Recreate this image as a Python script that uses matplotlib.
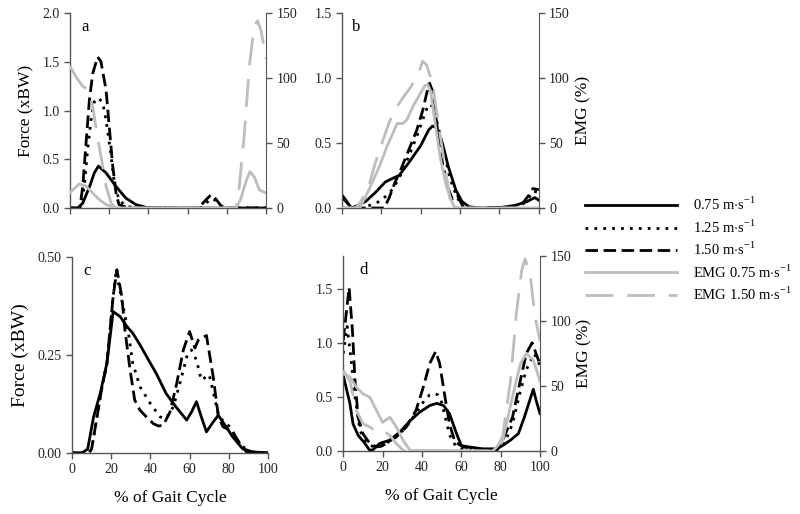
import matplotlib
matplotlib.use("Agg")
import matplotlib.pyplot as plt
from matplotlib.lines import Line2D

plt.rcParams['font.family'] = ['Liberation Serif', 'DejaVu Serif']
plt.rcParams['mathtext.fontset'] = 'custom'
plt.rcParams['mathtext.rm'] = 'Liberation Serif'

# ---------------- data ----------------
# Panel a
a_x_s = [0, 4, 6.5, 10, 12.4, 14.5, 18.4, 23.5, 28.6, 33.7, 38.8, 45, 100]
a_s = [0, 0, 0.05, 0.22, 0.36, 0.43, 0.36, 0.22, 0.1, 0.034, 0.007, 0, 0]
a_x_dt = [0, 5, 7.3, 9, 10.7, 12.4, 14.5, 16.7, 18.4, 21, 22.6, 25, 28.6, 35, 66, 67.7, 70, 72, 74, 76, 78.7, 85, 100]
a_dt = [0, 0, 0.22, 0.6, 0.9, 1.09, 1.13, 1.08, 0.9, 0.53, 0.26, 0.085, 0.017, 0, 0, 0.01, 0.06, 0.096, 0.08, 0.03, 0, 0, 0]
a_x_ds = [0, 5, 6.5, 8.2, 9.9, 11.6, 14.1, 15.8, 18.4, 20, 21.8, 23.5, 25, 30, 64, 66, 69.4, 72, 74.5, 77, 80, 100]
a_ds = [0, 0, 0.22, 0.67, 1.11, 1.38, 1.55, 1.5, 1.21, 0.84, 0.43, 0.15, 0.034, 0, 0, 0.01, 0.085, 0.137, 0.09, 0.024, 0, 0]
a_x_e1 = [0, 4.8, 8.2, 11.6, 15, 18.4, 21.8, 25, 84.7, 87, 89.8, 91.8, 94, 96.6, 100]
a_e1 = [12, 18.5, 16.7, 11.5, 6.4, 2.6, 0.8, 0, 0, 6.4, 20.5, 28, 24, 14, 11.5]
a_x_e2 = [0, 3, 6.5, 9, 11.6, 14, 16.7, 18.4, 21, 23, 84.7, 86.4, 89, 91.5, 94, 95.7, 97.4, 100]
a_e2 = [109, 101, 93.6, 91.5, 78, 55, 32, 16.7, 3.8, 0, 0, 16.7, 58, 109, 140, 144, 137, 115]

# Panel b
b_x_s = [0, 2, 5, 8, 12, 17, 22, 26, 29, 34, 40, 44, 46, 48, 51, 54, 57.8, 61, 64.5, 70, 81, 88, 94, 98, 100]
b_s = [0.08, 0.05, 0, 0.02, 0.05, 0.12, 0.2, 0.23, 0.25, 0.35, 0.48, 0.6, 0.63, 0.62, 0.5, 0.32, 0.14, 0.05, 0.01, 0, 0.005, 0.02, 0.05, 0.08, 0.06]
b_x_dt = [0, 5, 10, 14, 19, 23, 26, 30, 34, 38, 41, 43, 44.5, 46, 49, 52, 55, 58, 60, 62, 70, 85, 92, 95, 97, 100]
b_dt = [0, 0, 0, 0.02, 0.05, 0.1, 0.15, 0.26, 0.4, 0.55, 0.68, 0.76, 0.8, 0.78, 0.62, 0.42, 0.22, 0.1, 0.04, 0, 0, 0, 0.03, 0.08, 0.13, 0.12]
b_x_ds = [0, 2, 4.6, 10, 21.5, 24, 27, 30, 34, 38, 41, 43, 44.5, 46, 49, 51, 54, 56, 58.6, 60.5, 62, 70, 85, 92, 95, 97, 100]
b_ds = [0.1, 0.06, 0, 0, 0, 0.08, 0.2, 0.3, 0.45, 0.6, 0.75, 0.88, 0.96, 0.9, 0.55, 0.35, 0.15, 0.07, 0.1, 0.04, 0, 0, 0, 0.04, 0.1, 0.15, 0.14]
b_x_e1 = [0, 9, 14, 19, 23, 26, 28, 31, 33, 36, 39, 42, 43.5, 45, 48, 50, 53, 55, 57, 60, 100]
b_e1 = [0, 0, 15, 32, 48, 58, 65, 65, 68, 78, 86, 94, 95, 90, 58, 38, 17, 8, 1, 0, 0]
b_x_e2 = [0, 7, 10, 14, 17, 21, 24, 27, 31, 34, 37, 39, 41, 43, 46, 48, 51, 53, 55, 57, 100]
b_e2 = [0, 0, 6, 19, 35, 53, 66, 76, 85, 91, 98, 104, 113, 110, 96, 75, 45, 25, 6, 0, 0]

# Panel c
c_x_s = [0, 5, 8, 11, 14.4, 17.8, 21, 24.6, 28, 31, 34.7, 40, 43, 48, 53, 58.5, 61, 63.5, 66, 68.6, 72, 74.6, 77, 82, 87, 92, 100]
c_s = [0, 0, 0.01, 0.092, 0.152, 0.229, 0.361, 0.348, 0.323, 0.306, 0.276, 0.229, 0.203, 0.152, 0.118, 0.084, 0.105, 0.131, 0.092, 0.054, 0.079, 0.096, 0.079, 0.041, 0.011, 0.003, 0]
c_x_ds = [0, 8.5, 10, 12.7, 15, 17.8, 21, 22.9, 25.4, 27, 29.7, 32, 34.7, 38, 41.5, 44, 46.6, 50, 53.4, 56.8, 60, 62.7, 64.4, 68.6, 72, 74.6, 77, 80.5, 82, 85.6, 89, 100]
c_ds = [0, 0, 0.01, 0.09, 0.16, 0.229, 0.40, 0.468, 0.40, 0.314, 0.21, 0.135, 0.109, 0.092, 0.075, 0.069, 0.071, 0.105, 0.177, 0.263, 0.31, 0.268, 0.288, 0.30, 0.196, 0.096, 0.067, 0.058, 0.054, 0.024, 0.003, 0]
c_x_dt = [0, 8.5, 10, 12.7, 15, 17.8, 21, 22.5, 25, 28.8, 31, 34.7, 40, 45, 48, 51.7, 55, 59, 61, 63.5, 66, 68.6, 70, 73, 75, 80.5, 85.6, 90.7, 100]
c_dt = [0, 0, 0.01, 0.09, 0.16, 0.229, 0.40, 0.465, 0.40, 0.306, 0.229, 0.169, 0.126, 0.092, 0.088, 0.118, 0.177, 0.254, 0.263, 0.237, 0.186, 0.195, 0.20, 0.135, 0.092, 0.067, 0.024, 0, 0]

# Panel d
d_x_s = [0, 3.4, 5, 7.6, 11, 13.5, 15, 18.6, 23.7, 28.8, 34, 39, 44, 47.5, 51, 54, 57.6, 60, 64, 71, 78, 81, 85, 89, 92, 96.6, 98, 100]
d_s = [0.7, 0.44, 0.25, 0.145, 0.07, 0.006, 0.01, 0.07, 0.1, 0.175, 0.28, 0.36, 0.42, 0.44, 0.42, 0.345, 0.16, 0.05, 0.037, 0.02, 0.02, 0.05, 0.1, 0.16, 0.31, 0.57, 0.47, 0.345]
d_x_ds = [0, 3, 4.7, 6, 7.6, 10, 13.5, 17, 20, 27, 32, 37, 40.7, 44, 47, 49, 51.7, 54, 56.8, 61, 68, 73, 78, 81, 86, 90, 93, 96, 98, 100]
d_ds = [1.02, 1.51, 1.11, 0.65, 0.31, 0.16, 0.07, 0.037, 0.05, 0.13, 0.22, 0.375, 0.59, 0.81, 0.92, 0.81, 0.5, 0.25, 0.083, 0.037, 0.02, 0.005, 0.005, 0.1, 0.31, 0.65, 0.9, 1.0, 0.9, 0.8]
d_x_dt = [0, 2, 4, 6, 8.5, 11, 14, 17, 20, 27, 32, 37, 41, 44, 46, 48, 50, 52, 54, 57, 60, 68, 78, 82, 86, 90, 93, 97, 99, 100]
d_dt = [0.9, 1.15, 0.85, 0.5, 0.19, 0.1, 0.05, 0.03, 0.05, 0.13, 0.22, 0.35, 0.46, 0.52, 0.53, 0.52, 0.45, 0.3, 0.15, 0.05, 0.02, 0.01, 0.01, 0.07, 0.25, 0.55, 0.75, 0.9, 0.83, 0.78]
d_x_e1 = [0, 3.4, 6.8, 10, 13.5, 17, 20, 23.7, 27, 30.5, 34, 76, 81, 86, 90, 93, 96.6, 100]
d_e1 = [59.5, 57, 49, 44, 41.5, 31, 22, 26, 18.5, 8, 0.5, 0, 8, 41.5, 67, 75, 70, 54]
d_x_e2 = [0, 3.4, 6.8, 10, 13.5, 17, 20, 23.7, 27, 30.5, 33, 77, 81, 85, 88, 90.7, 92.4, 95, 97.5, 100]
d_e2 = [62, 54, 31, 21, 18.5, 14.6, 16, 12, 5.6, 0.5, 0, 0, 11, 54, 106, 139, 148, 136, 103, 85]

legend_labels = [r'0.75 m$\cdot$s$^{\mathregular{-1}}$', r'1.25 m$\cdot$s$^{\mathregular{-1}}$',
                 r'1.50 m$\cdot$s$^{\mathregular{-1}}$', r'EMG 0.75 m$\cdot$s$^{\mathregular{-1}}$',
                 r'EMG 1.50 m$\cdot$s$^{\mathregular{-1}}$']

# ---------------- styles ----------------
GRAY = '#bdbdbd'
SPINE = '#555555'
sty_s = dict(color='black', lw=2.0, ls='-')
sty_dt = dict(color='black', lw=2.0, ls=(0, (1, 2.2)))
sty_ds = dict(color='black', lw=2.0, ls=(0, (4.5, 2)))
sty_e1 = dict(color=GRAY, lw=2.0, ls='-')
sty_e2 = dict(color=GRAY, lw=2.0, ls=(0, (10, 5)))

fig = plt.figure(figsize=(8, 5.14), dpi=100)

def style_ax(ax, right=False, left=True):
    ax.spines['top'].set_visible(False)
    if not right:
        ax.spines['right'].set_visible(False)
    for s in ax.spines.values():
        s.set_color(SPINE)
        s.set_linewidth(1.0)
    ax.tick_params(direction='out', length=4, width=1, color=SPINE,
                   labelsize=10, labelcolor='#222222')
    ax.set_xlim(0, 100)
    ax.set_xticks([0, 20, 40, 60, 80, 100])

def twin(ax, ymax=150):
    t = ax.twinx()
    t.set_ylim(0, ymax)
    t.set_yticks([0, 50, 100, 150])
    t.spines['top'].set_visible(False)
    t.spines['left'].set_visible(False)
    t.spines['bottom'].set_visible(False)
    t.spines['right'].set_color(SPINE)
    t.tick_params(direction='out', length=4, width=1, color=SPINE,
                  labelsize=10, labelcolor='#222222')
    return t

# Panel a
ax_a = fig.add_axes([0.0875, 0.5953, 0.245, 0.3794])
style_ax(ax_a)
ax_a.set_ylim(0, 2.0)
ax_a.set_yticks([0, 0.5, 1.0, 1.5, 2.0])
ax_a.set_yticklabels(['0.0', '0.5', '1.0', '1.5', '2.0'])
ax_a.set_xticklabels([])
ax_a.plot(a_x_s, a_s, **sty_s)
ax_a.plot(a_x_dt, a_dt, **sty_dt)
ax_a.plot(a_x_ds, a_ds, **sty_ds)
ax_a.set_ylabel('Force (xBW)', fontsize=12.5, labelpad=6)
ax_a.text(0.06, 0.93, 'a', transform=ax_a.transAxes, fontsize=12, va='center')
t_a = twin(ax_a)
t_a.plot(a_x_e1, a_e1, **sty_e1)
t_a.plot(a_x_e2, a_e2, **sty_e2)

# Panel b
ax_b = fig.add_axes([0.4275, 0.5953, 0.246, 0.3794])
style_ax(ax_b)
ax_b.set_ylim(0, 1.5)
ax_b.set_yticks([0, 0.5, 1.0, 1.5])
ax_b.set_yticklabels(['0.0', '0.5', '1.0', '1.5'])
ax_b.set_xticklabels([])
ax_b.plot(b_x_s, b_s, **sty_s)
ax_b.plot(b_x_dt, b_dt, **sty_dt)
ax_b.plot(b_x_ds, b_ds, **sty_ds)
ax_b.text(0.05, 0.93, 'b', transform=ax_b.transAxes, fontsize=12, va='center')
t_b = twin(ax_b)
t_b.plot(b_x_e1, b_e1, **sty_e1)
t_b.plot(b_x_e2, b_e2, **sty_e2)
t_b.set_ylabel('EMG (%)', fontsize=12.5, labelpad=4)

# Panel c
ax_c = fig.add_axes([0.09, 0.1187, 0.245, 0.381])
style_ax(ax_c)
ax_c.set_ylim(0, 0.5)
ax_c.set_yticks([0, 0.25, 0.5])
ax_c.set_yticklabels(['0.00', '0.25', '0.50'])
ax_c.plot(c_x_s, c_s, **sty_s)
ax_c.plot(c_x_dt, c_dt, **sty_dt)
ax_c.plot(c_x_ds, c_ds, **sty_ds)
ax_c.set_ylabel('Force (xBW)', fontsize=14, labelpad=6)
ax_c.set_xlabel('% of Gait Cycle', fontsize=12.5, labelpad=10)
ax_c.text(0.06, 0.93, 'c', transform=ax_c.transAxes, fontsize=12, va='center')

# Panel d
ax_d = fig.add_axes([0.429, 0.1226, 0.246, 0.379])
style_ax(ax_d)
ax_d.set_ylim(0, 1.8)
ax_d.set_yticks([0, 0.5, 1.0, 1.5])
ax_d.set_yticklabels(['0.0', '0.5', '1.0', '1.5'])
ax_d.plot(d_x_s, d_s, **sty_s)
ax_d.plot(d_x_dt, d_dt, **sty_dt)
ax_d.plot(d_x_ds, d_ds, **sty_ds)
ax_d.set_xlabel('% of Gait Cycle', fontsize=12.5, labelpad=10)
ax_d.text(0.08, 0.93, 'd', transform=ax_d.transAxes, fontsize=12, va='center')
t_d = twin(ax_d)
t_d.plot(d_x_e1, d_e1, **sty_e1)
t_d.plot(d_x_e2, d_e2, **sty_e2)
t_d.set_ylabel('EMG (%)', fontsize=12.5, labelpad=4)

handles = [Line2D([], [], **sty_s), Line2D([], [], **sty_dt), Line2D([], [], **sty_ds),
           Line2D([], [], **sty_e1), Line2D([], [], **sty_e2)]
fig.legend(handles, legend_labels, loc='upper left', bbox_to_anchor=(0.724, 0.63),
           frameon=False, fontsize=10.5, handlelength=6.3, handletextpad=1.1,
           labelspacing=0.35, borderaxespad=0)

fig.savefig('out.png', dpi=100)
